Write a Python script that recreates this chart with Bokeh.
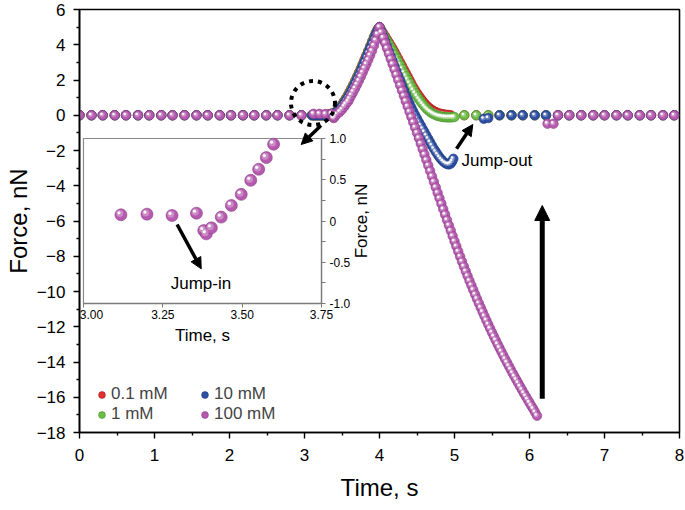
from bokeh.plotting import figure
from bokeh.models import (Range1d, LinearAxis, FixedTicker, Legend, LegendItem,
                          Arrow, NormalHead, Label, ColumnDataSource,
                          CustomJSTickFormatter)
from bokeh.transform import dodge
from bokeh.embed import file_html
from bokeh.resources import INLINE

FONT = "Liberation Sans"

# ---------------- data ----------------
LABELS = ["0.1 mM", "1 mM", "10 mM", "100 mM"]
COLORS = ["#e0302e", "#6cbd45", "#2e4fa3", "#b55aae"]
EDGES = ["#a82020", "#4a9130", "#1f3a7e", "#8a3d86"]

T_PRE = [0.00, 0.16, 0.31, 0.47, 0.62, 0.78, 0.93, 1.09, 1.24, 1.40,
         1.56, 1.71, 1.87, 2.02, 2.18, 2.33, 2.49, 2.64, 2.80, 2.96]
F_PRE = [0.0, 0.0, 0.0, 0.0, 0.0, 0.0, 0.0, 0.0, 0.0, 0.0,
         0.0, 0.0, 0.0, 0.0, 0.0, 0.0, 0.0, 0.0, 0.0, 0.0]

T_APP = [3.100, 3.125, 3.150, 3.175, 3.200, 3.225, 3.250, 3.275, 3.300, 3.325,
         3.350, 3.375, 3.400, 3.425, 3.450, 3.475, 3.500, 3.525, 3.550, 3.575,
         3.600, 3.625, 3.650, 3.675, 3.700, 3.725, 3.750, 3.775, 3.800, 3.825,
         3.850, 3.875, 3.900, 3.925, 3.950, 3.975, 4.000]
F_APP_01 = [0.00, 0.00, 0.00, 0.00, 0.00, 0.00, 0.01, 0.01, 0.02, 0.04,
            0.07, 0.10, 0.15, 0.22, 0.32, 0.46, 0.62, 0.78, 0.94, 1.12,
            1.32, 1.52, 1.73, 1.95, 2.18, 2.41, 2.65, 2.90, 3.15, 3.40,
            3.66, 3.92, 4.18, 4.44, 4.68, 4.88, 5.00]
F_APP_1 = [0.00, 0.00, 0.00, 0.00, 0.00, 0.00, 0.00, 0.01, 0.02, 0.03,
           0.06, 0.09, 0.13, 0.20, 0.29, 0.42, 0.57, 0.73, 0.89, 1.07,
           1.26, 1.46, 1.67, 1.89, 2.12, 2.35, 2.59, 2.84, 3.09, 3.34,
           3.60, 3.86, 4.12, 4.38, 4.63, 4.84, 5.00]
F_APP_10 = [0.00, 0.00, 0.00, 0.00, 0.00, 0.00, 0.00, 0.00, 0.01, 0.02,
            0.04, 0.07, 0.11, 0.17, 0.25, 0.37, 0.51, 0.66, 0.82, 0.99,
            1.18, 1.38, 1.59, 1.81, 2.04, 2.27, 2.51, 2.76, 3.01, 3.27,
            3.53, 3.79, 4.05, 4.31, 4.57, 4.80, 5.00]
APP_100 = [(3.12, 0.08), (3.20, 0.08), (3.28, 0.07), (3.36, 0.09), (3.38, -0.12),
           (3.39, -0.16), (3.40, -0.08), (3.43, 0.05), (3.47, 0.19), (3.50, 0.32),
           (3.53, 0.49), (3.55, 0.63), (3.58, 0.77), (3.60, 0.93), (3.625, 1.13),
           (3.65, 1.33), (3.675, 1.53), (3.70, 1.74), (3.725, 1.96), (3.75, 2.19),
           (3.775, 2.42), (3.80, 2.66), (3.825, 2.90), (3.85, 3.15), (3.875, 3.40),
           (3.90, 3.66), (3.925, 3.95), (3.95, 4.25), (3.975, 4.60)]

RET_01 = [(4.025, 4.82), (4.050, 4.65), (4.075, 4.48), (4.100, 4.30), (4.125, 4.13),
          (4.150, 3.95), (4.175, 3.78), (4.200, 3.60), (4.225, 3.40), (4.250, 3.20),
          (4.275, 3.00), (4.300, 2.80), (4.325, 2.60), (4.350, 2.40), (4.375, 2.20),
          (4.400, 2.00), (4.425, 1.80), (4.450, 1.60), (4.475, 1.42), (4.500, 1.25),
          (4.525, 1.10), (4.550, 0.95), (4.575, 0.81), (4.600, 0.68), (4.625, 0.56),
          (4.650, 0.46), (4.675, 0.37), (4.700, 0.30), (4.725, 0.23), (4.750, 0.18),
          (4.775, 0.13), (4.800, 0.10), (4.825, 0.07), (4.850, 0.05), (4.875, 0.03),
          (4.900, 0.02), (4.925, 0.01), (4.950, 0.00)]
RET_1 = [(4.025, 4.80), (4.050, 4.60), (4.075, 4.41), (4.100, 4.22), (4.125, 4.03),
         (4.150, 3.84), (4.175, 3.65), (4.200, 3.45), (4.225, 3.25), (4.250, 3.05),
         (4.275, 2.84), (4.300, 2.63), (4.325, 2.42), (4.350, 2.22), (4.375, 2.02),
         (4.400, 1.82), (4.425, 1.62), (4.450, 1.43), (4.475, 1.25), (4.500, 1.08),
         (4.525, 0.92), (4.550, 0.77), (4.575, 0.63), (4.600, 0.50), (4.625, 0.38),
         (4.650, 0.28), (4.675, 0.19), (4.700, 0.12), (4.725, 0.06), (4.750, 0.01),
         (4.775, -0.03), (4.800, -0.06), (4.825, -0.08), (4.850, -0.10), (4.875, -0.11),
         (4.900, -0.12), (4.925, -0.12), (4.950, -0.12), (4.975, -0.11), (5.000, -0.10)]
RET_10 = [(4.025, 4.75), (4.050, 4.47), (4.075, 4.19), (4.100, 3.91), (4.125, 3.63),
          (4.150, 3.35), (4.175, 3.07), (4.200, 2.79), (4.225, 2.51), (4.250, 2.23),
          (4.275, 1.96), (4.300, 1.69), (4.325, 1.42), (4.350, 1.16), (4.375, 0.91),
          (4.400, 0.67), (4.425, 0.44), (4.450, 0.22), (4.475, 0.01), (4.500, -0.19),
          (4.525, -0.39), (4.550, -0.58), (4.575, -0.77), (4.600, -0.96), (4.625, -1.15),
          (4.650, -1.34), (4.675, -1.53), (4.700, -1.72), (4.725, -1.90), (4.750, -2.07),
          (4.775, -2.23), (4.800, -2.38), (4.825, -2.51), (4.850, -2.62), (4.875, -2.71),
          (4.900, -2.77), (4.925, -2.79), (4.950, -2.74), (4.970, -2.62), (4.985, -2.47)]
RET_100 = [(4.000, 5.00), (4.025, 4.70), (4.050, 4.40), (4.075, 4.10), (4.100, 3.80),
           (4.125, 3.50), (4.150, 3.20), (4.175, 2.90), (4.200, 2.60), (4.225, 2.30),
           (4.250, 2.00), (4.275, 1.70), (4.300, 1.40), (4.325, 1.10), (4.350, 0.80),
           (4.375, 0.50), (4.400, 0.20), (4.425, -0.10), (4.450, -0.40), (4.475, -0.70),
           (4.500, -1.00), (4.525, -1.30), (4.550, -1.61), (4.575, -1.92), (4.600, -2.23),
           (4.625, -2.54), (4.650, -2.85), (4.675, -3.16), (4.700, -3.47), (4.725, -3.78),
           (4.750, -4.09), (4.775, -4.40), (4.800, -4.71), (4.825, -5.02), (4.850, -5.33),
           (4.875, -5.64), (4.900, -5.95), (4.925, -6.25), (4.950, -6.55), (4.975, -6.85),
           (5.000, -7.15), (5.025, -7.44), (5.050, -7.73), (5.075, -8.02), (5.100, -8.30),
           (5.125, -8.58), (5.150, -8.85), (5.175, -9.12), (5.200, -9.39), (5.225, -9.65),
           (5.250, -9.91), (5.275, -10.17), (5.300, -10.42), (5.325, -10.67), (5.350, -10.92),
           (5.375, -11.16), (5.400, -11.40), (5.425, -11.64), (5.450, -11.87), (5.475, -12.10),
           (5.500, -12.33), (5.525, -12.55), (5.550, -12.77), (5.575, -12.99), (5.600, -13.20),
           (5.625, -13.41), (5.650, -13.62), (5.675, -13.83), (5.700, -14.03), (5.725, -14.23),
           (5.750, -14.43), (5.775, -14.63), (5.800, -14.82), (5.825, -15.01), (5.850, -15.20),
           (5.875, -15.39), (5.900, -15.58), (5.925, -15.77), (5.950, -15.95), (5.975, -16.13),
           (6.000, -16.31), (6.025, -16.49), (6.050, -16.66), (6.075, -16.85), (6.100, -17.05)]

JUMP_10 = [(5.39, -0.20), (5.45, -0.16)]
JUMP_100 = [(6.24, -0.48), (6.32, -0.48)]

T_POST = [5.13, 5.29, 5.45, 5.60, 5.76, 5.91, 6.07, 6.22, 6.38, 6.53,
          6.69, 6.85, 7.00, 7.16, 7.31, 7.47, 7.62, 7.78, 7.93]
F_POST = [0.0, 0.0, 0.0, 0.0, 0.0, 0.0, 0.0, 0.0, 0.0, 0.0,
          0.0, 0.0, 0.0, 0.0, 0.0, 0.0, 0.0, 0.0, 0.0]
POST_START_10 = 3    # blue back on the baseline from 5.60 s
POST_START_100 = 8   # magenta back on the baseline from 6.38 s

# inset (100 mM, jump-in detail)
INSET_T = [3.118, 3.200, 3.279, 3.356, 3.379, 3.387, 3.403, 3.434, 3.466, 3.497,
           3.527, 3.552, 3.576, 3.599]
INSET_F = [0.075, 0.083, 0.067, 0.095, -0.116, -0.156, -0.083, 0.047, 0.189, 0.323,
           0.493, 0.627, 0.769, 0.931]

X_TICKS = [0, 1, 2, 3, 4, 5, 6, 7, 8]
X_MINOR = [0.5, 1.5, 2.5, 3.5, 4.5, 5.5, 6.5, 7.5]
Y_TICKS = [-18, -16, -14, -12, -10, -8, -6, -4, -2, 0, 2, 4, 6]
Y_MINOR = [-17, -15, -13, -11, -9, -7, -5, -3, -1, 1, 3, 5]
INSET_X_TICKS = [3.00, 3.25, 3.50, 3.75]
INSET_X_LABELS = ["3.00", "3.25", "3.50", "3.75"]
INSET_Y_TICKS = [-1.0, -0.5, 0.0, 0.5, 1.0]
INSET_Y_MINOR = [-0.75, -0.25, 0.25, 0.75]

# ---------------- layout constants ----------------
X0, X1, Y0, Y1 = 0, 8, -18, 6
FRAME_W, FRAME_H = 600, 423
IX0, IX1, IY0, IY1 = 3.0, 3.75, -1.0, 1.0
# where the inset frame sits, in main data units
MX0, MX1, MY0, MY1 = 0.053, 3.227, -10.68, -1.32

sx = (IX1 - IX0) / (MX1 - MX0)
sy = (IY1 - IY0) / (MY1 - MY0)
ix_start, ix_end = IX0 - (MX0 - X0) * sx, IX0 + (X1 - MX0) * sx
iy_start, iy_end = IY0 - (MY0 - Y0) * sy, IY0 + (Y1 - MY0) * sy

PX_X = FRAME_W / (X1 - X0)
PX_Y = FRAME_H / (Y1 - Y0)
IPX_X = FRAME_W / (ix_end - ix_start)
IPX_Y = FRAME_H / (iy_end - iy_start)

p = figure(frame_width=FRAME_W, frame_height=FRAME_H,
           x_range=Range1d(X0, X1), y_range=Range1d(Y0, Y1),
           output_backend="svg", toolbar_location=None,
           min_border_left=79, min_border_right=6, min_border_top=9, min_border_bottom=10,
           background_fill_color="white", border_fill_color="white")
p.extra_x_ranges = {"ix": Range1d(ix_start, ix_end)}
p.extra_y_ranges = {"iy": Range1d(iy_start, iy_end)}
p.xgrid.visible = False
p.ygrid.visible = False
p.outline_line_color = "black"
p.outline_line_width = 1.6

xa = p.below[0]
ya = p.left[0]
for ax in (xa, ya):
    ax.axis_line_color = "black"
    ax.axis_line_width = 1.6
    ax.major_tick_line_color = "black"
    ax.minor_tick_line_color = "black"
    ax.major_tick_line_width = 1.4
    ax.minor_tick_line_width = 1.4
    ax.major_tick_in = 0
    ax.major_tick_out = 6
    ax.minor_tick_in = 0
    ax.minor_tick_out = 3
    ax.major_label_text_font = FONT
    ax.major_label_text_font_size = "17px"
    ax.major_label_text_color = "black"
    ax.axis_label_text_font = FONT
    ax.axis_label_text_font_size = "24px"
    ax.axis_label_text_font_style = "normal"
    ax.axis_label_text_color = "black"
xa.ticker = FixedTicker(ticks=X_TICKS, minor_ticks=X_MINOR)
ya.ticker = FixedTicker(ticks=Y_TICKS, minor_ticks=Y_MINOR)
ya.formatter = CustomJSTickFormatter(code="return tick < 0 ? '\\u2212' + (-tick) : String(tick);")
xa.axis_label = "Time, s"
ya.axis_label = "Force, nN"
xa.major_label_standoff = 10
xa.axis_label_standoff = 10
ya.major_label_standoff = 8
ya.axis_label_standoff = 2

# ---------------- series ----------------
def pairs(ts, fs):
    return list(zip(ts, fs))

series = [
    pairs(T_PRE, F_PRE) + pairs(T_APP, F_APP_01) + RET_01 + pairs(T_POST, F_POST),
    pairs(T_PRE, F_PRE) + pairs(T_APP, F_APP_1) + RET_1 + pairs(T_POST, F_POST),
    pairs(T_PRE, F_PRE) + pairs(T_APP, F_APP_10) + RET_10 + JUMP_10
    + pairs(T_POST[POST_START_10:], F_POST[POST_START_10:]),
    pairs(T_PRE, F_PRE) + APP_100 + RET_100 + JUMP_100
    + pairs(T_POST[POST_START_100:], F_POST[POST_START_100:]),
]

MSIZE = 9.5
base_renderers = []
for pts, col, edge in zip(series, COLORS, EDGES):
    src = ColumnDataSource(dict(t=[a for a, _ in pts], f=[b for _, b in pts]))
    r = p.scatter("t", "f", source=src, size=MSIZE, fill_color=col,
                  line_color=edge, line_width=0.6)
    p.scatter(dodge("t", -0.8 / PX_X), dodge("f", 0.8 / PX_Y), source=src, size=5,
              fill_color="white", fill_alpha=0.3, line_alpha=0)
    p.scatter(dodge("t", -1.3 / PX_X), dodge("f", 1.3 / PX_Y), source=src, size=2.6,
              fill_color="white", fill_alpha=0.95, line_alpha=0)
    base_renderers.append(r)

# ---------------- inset ----------------
p.quad(left=[IX0], right=[IX1], bottom=[IY0], top=[IY1], x_range_name="ix",
       y_range_name="iy", fill_color="white", line_color="#8a8a8a", line_width=1.2)
isrc = ColumnDataSource(dict(t=INSET_T, f=INSET_F))
p.scatter("t", "f", source=isrc, x_range_name="ix", y_range_name="iy", size=12,
          fill_color=COLORS[3], line_color=EDGES[3], line_width=0.6)
p.scatter(dodge("t", -1.2 / IPX_X), dodge("f", 1.2 / IPX_Y), source=isrc,
          x_range_name="ix", y_range_name="iy", size=7,
          fill_color="white", fill_alpha=0.3, line_alpha=0)
p.scatter(dodge("t", -2.0 / IPX_X), dodge("f", 2.0 / IPX_Y), source=isrc,
          x_range_name="ix", y_range_name="iy", size=3.2,
          fill_color="white", fill_alpha=0.95, line_alpha=0)

ixa = LinearAxis(x_range_name="ix", y_range_name="iy", fixed_location=IY0,
                 bounds=(IX0, IX1), ticker=FixedTicker(ticks=INSET_X_TICKS),
                 formatter=CustomJSTickFormatter(code="return '';"),
                 axis_label="Time, s")
iya = LinearAxis(x_range_name="ix", y_range_name="iy", fixed_location=IX1,
                 bounds=(IY0, IY1),
                 ticker=FixedTicker(ticks=INSET_Y_TICKS, minor_ticks=INSET_Y_MINOR),
                 formatter=CustomJSTickFormatter(
                     code="return tick === 0 ? '0' : tick.toFixed(1);"))
for ax in (ixa, iya):
    ax.axis_line_color = "#7a7a7a"
    ax.axis_line_width = 1.3
    ax.major_tick_line_color = "#7a7a7a"
    ax.minor_tick_line_color = "#7a7a7a"
    ax.major_tick_in = 0
    ax.major_tick_out = 4
    ax.minor_tick_in = 0
    ax.minor_tick_out = 4
    ax.major_label_standoff = 4
    ax.major_label_text_font = FONT
    ax.major_label_text_font_size = "12px"
    ax.major_label_text_color = "black"
    ax.axis_label_text_font = FONT
    ax.axis_label_text_font_size = "17px"
    ax.axis_label_text_font_style = "normal"
    ax.axis_label_text_color = "black"
ixa.axis_label_standoff = 18
p.add_layout(ixa, "below")
p.add_layout(iya, "right")

for tk, tx in zip(INSET_X_TICKS, INSET_X_LABELS):
    p.add_layout(Label(x=tk, y=IY0, x_range_name="ix", y_range_name="iy",
                       x_offset=8 if tk == IX0 else 0, y_offset=-7, text=tx,
                       text_align="center", text_baseline="top",
                       text_font=FONT, text_font_size="12px", text_color="black"))

p.add_layout(Label(x=IX1, y=(IY0 + IY1) / 2, x_range_name="ix", y_range_name="iy",
                   x_offset=40, text="Force, nN", angle=90, angle_units="deg",
                   text_align="center", text_baseline="middle", text_font=FONT,
                   text_font_size="17px", text_color="black"))

# ---------------- annotations ----------------
CIRCLE_AT = (3.113, 0.695)
p.scatter([CIRCLE_AT[0]], [CIRCLE_AT[1]], size=44, fill_alpha=0, line_color="black",
          line_width=4, line_dash="4 5")

def arrow(xs, ys, xe, ye, width, head, **kw):
    p.add_layout(Arrow(end=NormalHead(size=head, fill_color="black", line_color="black",
                                      line_width=1),
                       x_start=xs, y_start=ys, x_end=xe, y_end=ye,
                       line_color="black", line_width=width, **kw))

arrow(3.22, -0.58, 2.956, -1.66, 3.5, 11)
arrow(5.027, -1.90, 5.244, -0.525, 3.5, 11)
arrow(6.17, -16.09, 6.17, -5.12, 5, 15)
arrow(3.295, -0.042, 3.371, -0.58, 3.5, 11, x_range_name="ix", y_range_name="iy")

p.add_layout(Label(x=5.093, y=-2.57, text="Jump-out", text_align="left",
                   text_baseline="middle", text_font=FONT, text_font_size="17px",
                   text_color="black"))
p.add_layout(Label(x=3.37, y=-0.761, x_range_name="ix", y_range_name="iy",
                   text="Jump-in", text_align="center", text_baseline="middle",
                   text_font=FONT, text_font_size="17px", text_color="black"))

# ---------------- legend ----------------
legend = Legend(items=[LegendItem(label=l, renderers=[r]) for l, r in zip(LABELS, base_renderers)],
                location=(14, 8), orientation="vertical", nrows=2,
                glyph_width=17, glyph_height=17, label_height=17, label_width=85,
                label_standoff=1, spacing=-2, padding=0, margin=0,
                label_text_font=FONT, label_text_font_size="17px",
                background_fill_alpha=0, border_line_alpha=0)
p.add_layout(legend)

open("out.html", "w").write(file_html(p, INLINE))
